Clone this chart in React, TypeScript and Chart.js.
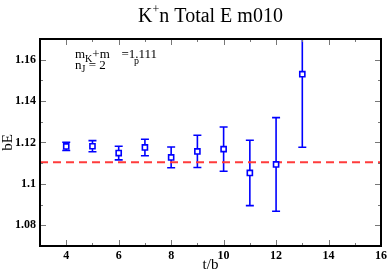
import React, { useEffect, useRef } from "react";
import { Chart, registerables } from "chart.js";

Chart.register(...registerables);

const tValues = [4, 5, 6, 7, 8, 9, 10, 11, 12, 13];
const energies = [1.1181, 1.1182, 1.1149, 1.1176, 1.1128, 1.1157, 1.1168, 1.1053, 1.1094, 1.153];
const errors = [0.002, 0.0027, 0.0033, 0.004, 0.005, 0.0078, 0.0107, 0.0158, 0.0226, 0.0353];
const thresholdValue = 1.1105;
const xTicks = [4, 6, 8, 10, 12, 14, 16];
const yTicks = [1.08, 1.1, 1.12, 1.14, 1.16];
const xMinorTicks = [5, 7, 9, 11, 13, 15];
const yMinorTicks = [1.07, 1.09, 1.11, 1.13, 1.15, 1.17];

const SERIF = '"Liberation Serif", "Times New Roman", serif';
const BLUE = "#0000ff";
const RED = "#ff3b3b";

const decorPlugin = {
  id: "decor",
  beforeDatasetsDraw(chart: any) {
    const { ctx, chartArea, scales } = chart;
    const xs = scales.x;
    const ys = scales.y;
    ctx.save();
    ctx.beginPath();
    ctx.rect(chartArea.left, chartArea.top, chartArea.right - chartArea.left, chartArea.bottom - chartArea.top);
    ctx.clip();
    ctx.strokeStyle = BLUE;
    ctx.lineWidth = 1.6;
    tValues.forEach((t, i) => {
      const x = xs.getPixelForValue(t);
      const yTop = ys.getPixelForValue(energies[i] + errors[i]);
      const yBot = ys.getPixelForValue(energies[i] - errors[i]);
      ctx.beginPath();
      ctx.moveTo(x, yTop);
      ctx.lineTo(x, yBot);
      ctx.moveTo(x - 4, yTop);
      ctx.lineTo(x + 4, yTop);
      ctx.moveTo(x - 4, yBot);
      ctx.lineTo(x + 4, yBot);
      ctx.stroke();
    });
    ctx.restore();
  },
  afterDraw(chart: any) {
    const { ctx, chartArea, scales } = chart;
    const xs = scales.x;
    const ys = scales.y;
    const { left, right, top, bottom } = chartArea;
    ctx.save();
    // ticks
    ctx.strokeStyle = "#777777";
    ctx.lineWidth = 1;
    const major = 6;
    const minor = 3;
    const vtick = (v: number, len: number) => {
      const x = Math.round(xs.getPixelForValue(v)) + 0.5;
      ctx.beginPath();
      ctx.moveTo(x, bottom);
      ctx.lineTo(x, bottom - len);
      ctx.moveTo(x, top);
      ctx.lineTo(x, top + len);
      ctx.stroke();
    };
    const htick = (v: number, len: number) => {
      const y = Math.round(ys.getPixelForValue(v)) + 0.5;
      ctx.beginPath();
      ctx.moveTo(left, y);
      ctx.lineTo(left + len, y);
      ctx.moveTo(right, y);
      ctx.lineTo(right - len, y);
      ctx.stroke();
    };
    xTicks.forEach((v) => vtick(v, major));
    xMinorTicks.forEach((v) => vtick(v, minor));
    yTicks.forEach((v) => htick(v, major));
    yMinorTicks.forEach((v) => htick(v, minor));
    // frame
    ctx.strokeStyle = "#000000";
    ctx.lineWidth = 2;
    ctx.strokeRect(left, top, right - left, bottom - top);

    // title
    ctx.fillStyle = "#000000";
    ctx.textBaseline = "alphabetic";
    ctx.textAlign = "left";
    const big = "20px " + SERIF;
    const sup = "12px " + SERIF;
    const parts: [string, string, number][] = [
      ["K", big, 0],
      ["+", sup, -9],
      ["n Total E m010", big, 0],
    ];
    let w = 0;
    parts.forEach(([s, f]) => {
      ctx.font = f;
      w += ctx.measureText(s).width;
    });
    let x = (left + right) / 2 - w / 2;
    parts.forEach(([s, f, dy]) => {
      ctx.font = f;
      ctx.fillText(s, x, 22 + dy);
      x += ctx.measureText(s).width;
    });

    // annotation
    const fn = "13px " + SERIF;
    const fs = "10px " + SERIF;
    let ax = 75;
    const flow = (s: string, f: string, py: number) => {
      ctx.font = f;
      ctx.fillText(s, ax, py);
      ax += ctx.measureText(s).width;
    };
    const b1 = 58;
    flow("m", fn, b1);
    flow("K", fs, b1 + 4);
    flow("+m", fn, b1);
    ctx.font = fn;
    const eqW = ctx.measureText("=1.111").width;
    ctx.fillText("=1.111", 157 - eqW, b1);
    ctx.font = fs;
    ctx.fillText("p", 134, b1 + 6);
    const b2 = 69;
    ax = 75;
    flow("n", fn, b2);
    flow("J", fs, b2 + 3);
    flow(" = 2", fn, b2);

    // axis titles
    ctx.font = "15px " + SERIF;
    ctx.textAlign = "center";
    ctx.textBaseline = "middle";
    ctx.fillText("t/b", (left + right) / 2, 265);
    ctx.save();
    ctx.translate(8, (top + bottom) / 2);
    ctx.rotate(-Math.PI / 2);
    ctx.fillText("bE", 0, 0);
    ctx.restore();
    ctx.restore();
  },
};

export default function App() {
  const ref = useRef<HTMLCanvasElement | null>(null);
  useEffect(() => {
    document.body.style.margin = "0";
    const canvas = ref.current!;
    const chart = new Chart(canvas, {
      type: "scatter",
      data: {
        datasets: [
          {
            label: "E",
            data: tValues.map((t, i) => ({ x: t, y: energies[i] })),
            pointStyle: "rect",
            pointRadius: 3.6,
            borderColor: BLUE,
            backgroundColor: "#ffffff",
            borderWidth: 1.6,
            showLine: false,
            order: 1,
          },
          {
            label: "threshold",
            type: "line",
            data: [
              { x: 3, y: thresholdValue },
              { x: 16, y: thresholdValue },
            ],
            borderColor: RED,
            borderWidth: 2,
            borderDash: [8, 5],
            pointRadius: 0,
            fill: false,
            order: 2,
          } as any,
        ],
      },
      options: {
        animation: false,
        responsive: false,
        devicePixelRatio: 1,
        layout: { padding: { top: 39, right: 8, left: 0, bottom: 0 } },
        plugins: { legend: { display: false }, title: { display: false }, tooltip: { enabled: false } },
        scales: {
          x: {
            type: "linear",
            min: 3,
            max: 16,
            grid: { display: false, drawTicks: false },
            border: { display: false },
            afterBuildTicks: (s: any) => {
              s.ticks = xTicks.map((v) => ({ value: v }));
            },
            afterFit: (s: any) => {
              s.height = 28;
            },
            ticks: {
              padding: 3,
              color: "#000",
              font: { family: SERIF, size: 12, weight: "bold" },
              callback: (v: any) => String(v),
            },
          },
          y: {
            type: "linear",
            min: 1.07,
            max: 1.17,
            grid: { display: false, drawTicks: false },
            border: { display: false },
            afterBuildTicks: (s: any) => {
              s.ticks = yTicks.map((v) => ({ value: v }));
            },
            afterFit: (s: any) => {
              s.width = 40;
            },
            ticks: {
              padding: 4,
              color: "#000",
              font: { family: SERIF, size: 12, weight: "bold" },
              callback: (v: any) => String(Number(Number(v).toFixed(2))),
            },
          },
        },
      },
      plugins: [decorPlugin],
    });
    return () => chart.destroy();
  }, []);
  return <canvas ref={ref} width={390} height={274} style={{ display: "block" }} />;
}
